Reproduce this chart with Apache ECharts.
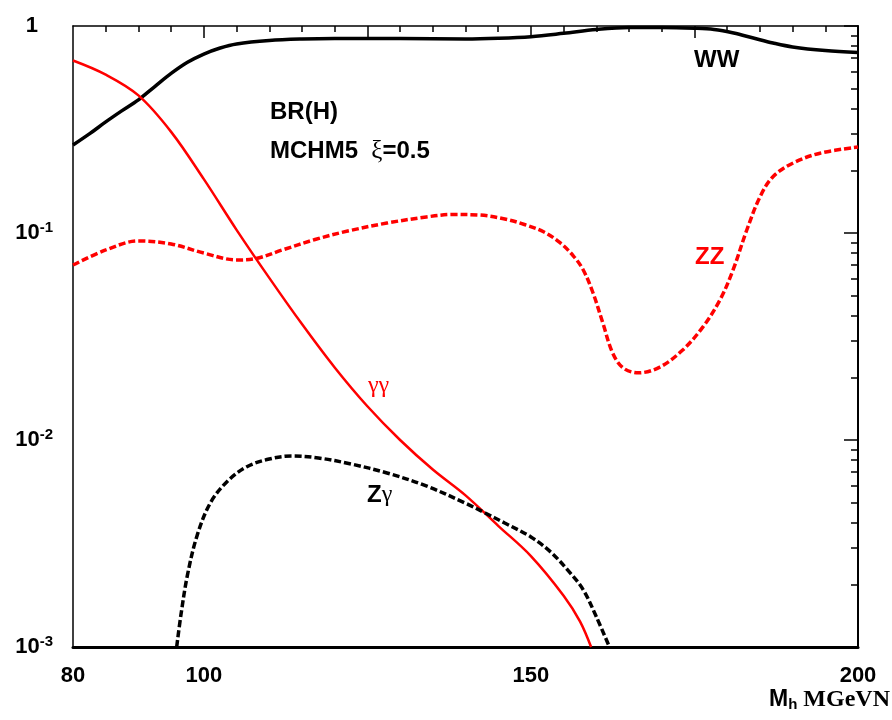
<!DOCTYPE html>
<html>
<head>
<meta charset="utf-8">
<script src="https://cdn.jsdelivr.net/npm/echarts@6/dist/echarts.min.js"></script>
<style>
  html, body { margin: 0; padding: 0; background: #fff; }
  #chart { width: 892px; height: 720px; }
</style>
</head>
<body>
<div id="chart"></div>
<script>
// Higgs branching ratios vs. mass, MCHM5 with xi = 0.5

const massWW = [80, 82.5, 85, 87.5, 90, 92.5, 95, 97.5, 100, 102.5, 105, 110, 115, 120, 130, 140, 145, 150, 155, 160, 165, 170, 175, 178, 181, 184, 187, 190, 195, 200];
const brWW   = [0.266, 0.301, 0.344, 0.39, 0.44, 0.51, 0.59, 0.668, 0.732, 0.783, 0.819, 0.851, 0.865, 0.870, 0.870, 0.865, 0.872, 0.888, 0.922, 0.962, 0.983, 0.983, 0.975, 0.962, 0.925, 0.875, 0.828, 0.792, 0.761, 0.745];

const massGG = [80, 85, 90, 95, 100, 105, 110, 115, 120, 125, 130, 135, 140, 145, 150, 155, 157.5, 159.2];
const brGG   = [0.681, 0.582, 0.462, 0.308, 0.182, 0.1036, 0.0607, 0.0363, 0.0224, 0.01455, 0.0100, 0.0072, 0.0054, 0.00385, 0.00275, 0.00177, 0.00133, 0.001];

const massZG = [95.85, 96.5, 97.5, 99, 101, 103.5, 106.5, 110, 113.5, 117.5, 122.5, 128, 134, 140, 143, 146, 150, 153, 156, 158, 160, 162];
const brZG   = [0.001, 0.00143, 0.00223, 0.00348, 0.00497, 0.00627, 0.00741, 0.00809, 0.00837, 0.00819, 0.00766, 0.00693, 0.0060, 0.00495, 0.00444, 0.00397, 0.0034, 0.00288, 0.00228, 0.00189, 0.0014, 0.001];

const massZZ = [80, 85, 90, 95, 100, 105, 108, 112, 117, 122, 128, 134, 138, 142, 146, 149, 152, 154.5, 156.5, 158, 159.5, 161, 162.5, 164.1, 166.4, 169.7, 173.2, 176.3, 178.9, 180.9, 183, 185, 187, 190.1, 194.2, 200];
const brZZ   = [0.0700, 0.0828, 0.0915, 0.0885, 0.0800, 0.0741, 0.0753, 0.0828, 0.0930, 0.1022, 0.1117, 0.1195, 0.1229, 0.1222, 0.1169, 0.1099, 0.1011, 0.0895, 0.0774, 0.0663, 0.0513, 0.0367, 0.0263, 0.0223, 0.0211, 0.0225, 0.0272, 0.0352, 0.0475, 0.0663, 0.1034, 0.149, 0.187, 0.218, 0.243, 0.260];

// axis ticks and labels
const xLabelValues = [80, 100, 150, 200];
const xMajorTicks = [100, 125, 150, 175];
const xMinorTicks = [85, 90, 95, 105, 110, 115, 120, 130, 135, 140, 145, 155, 160, 165, 170, 180, 185, 190, 195];
const yDecades = [0.001, 0.01, 0.1, 1];
const yMinorTicks = [];
[0.001, 0.01, 0.1].forEach(function (d) {
  for (let k = 2; k <= 9; k++) yMinorTicks.push(+(d * k).toPrecision(3));
});

const pair = (xs, ys) => xs.map((x, i) => [x, ys[i]]);

const BOLD = '"Liberation Sans", Arial, sans-serif';
const SERIF = '"Liberation Serif", "Times New Roman", serif';

const chart = echarts.init(document.getElementById('chart'), null, { renderer: 'canvas' });

const xBase = { type: 'value', min: 80, max: 200, splitLine: { show: false } };
const yBase = { type: 'log', logBase: 10, min: 0.001, max: 1, splitLine: { show: false } };

chart.setOption({
  animation: false,
  backgroundColor: '#fff',
  grid: { left: 73, top: 26, right: 34, bottom: 73, containLabel: false, outerBoundsMode: 'none' },
  xAxis: [
    Object.assign({}, xBase, {
      position: 'bottom',
      axisLine: { show: true, lineStyle: { color: '#000', width: 3 } },
      axisTick: { show: false },
      axisLabel: {
        customValues: xLabelValues,
        margin: 18,
        color: '#000', fontFamily: BOLD, fontWeight: 'bold', fontSize: 22
      }
    }),
    Object.assign({}, xBase, {
      position: 'top',
      axisLine: { show: true, onZero: false, lineStyle: { color: '#000', width: 1.5 } },
      axisTick: { show: true, inside: true, length: 6, customValues: xMinorTicks, lineStyle: { color: '#000', width: 1.5 } },
      axisLabel: { show: false }
    }),
    Object.assign({}, xBase, {
      position: 'top',
      axisLine: { show: false },
      axisTick: { show: true, inside: true, length: 12, customValues: xMajorTicks, lineStyle: { color: '#000', width: 1.5 } },
      axisLabel: { show: false }
    })
  ],
  yAxis: [
    Object.assign({}, yBase, {
      position: 'left',
      axisLine: { show: true, onZero: false, lineStyle: { color: '#000', width: 1.5 } },
      axisTick: { show: false },
      axisLabel: {
        customValues: yDecades,
        margin: 20,
        color: '#000',
        formatter: function (v) {
          const e = Math.round(Math.log10(v));
          return e === 0 ? '{b|1}{pad|}' : '{b|10}{e|' + e + '}';
        },
        rich: {
          b: { fontFamily: BOLD, fontWeight: 'bold', fontSize: 22, color: '#000', lineHeight: 26 },
          e: { fontFamily: BOLD, fontWeight: 'bold', fontSize: 15, color: '#000', verticalAlign: 'top', lineHeight: 16 },
          pad: { width: 15, fontSize: 15 }
        }
      }
    }),
    Object.assign({}, yBase, {
      position: 'right',
      axisLine: { show: true, onZero: false, lineStyle: { color: '#000', width: 2 } },
      axisTick: { show: true, inside: true, length: 7, customValues: yMinorTicks, lineStyle: { color: '#000', width: 1.5 } },
      axisLabel: { show: false }
    }),
    Object.assign({}, yBase, {
      position: 'right',
      axisLine: { show: false },
      axisTick: { show: true, inside: true, length: 14, customValues: yDecades, lineStyle: { color: '#000', width: 1.5 } },
      axisLabel: { show: false }
    })
  ],
  series: [
    {
      name: 'WW', type: 'line', smooth: 0.35, symbol: 'none', clip: true,
      data: pair(massWW, brWW),
      lineStyle: { color: '#000', width: 3.5 }
    },
    {
      name: 'ZZ', type: 'line', smooth: 0.35, symbol: 'none', clip: true,
      data: pair(massZZ, brZZ),
      lineStyle: { color: '#ff0000', width: 3.5, type: [7, 3] }
    },
    {
      name: 'gammagamma', type: 'line', smooth: 0.35, symbol: 'none', clip: true,
      data: pair(massGG, brGG),
      lineStyle: { color: '#ff0000', width: 2.5 }
    },
    {
      name: 'Zgamma', type: 'line', smooth: 0.35, symbol: 'none', clip: true,
      data: pair(massZG, brZG),
      lineStyle: { color: '#000', width: 3.5, type: [7, 3] }
    }
  ],
  graphic: [
    { type: 'text', left: 270, top: 100, style: { text: 'BR(H)', fill: '#000', font: 'bold 24px ' + BOLD } },
    { type: 'text', left: 270, top: 139, style: {
        text: '{b|MCHM5  }{g|ξ}{b|=0.5}',
        rich: {
          b: { fill: '#000', font: 'bold 24px ' + BOLD },
          g: { fill: '#000', font: '25px ' + SERIF }
        } } },
    { type: 'text', left: 694, top: 48, style: { text: 'WW', fill: '#000', font: 'bold 24px ' + BOLD } },
    { type: 'text', left: 695, top: 245, style: { text: 'ZZ', fill: '#ff0000', font: 'bold 24px ' + BOLD } },
    { type: 'text', left: 368, top: 374, style: { text: 'γγ', fill: '#ff0000', font: '24px ' + SERIF } },
    { type: 'text', left: 367, top: 483, style: {
        text: '{b|Z}{g|γ}',
        rich: {
          b: { fill: '#000', font: 'bold 24px ' + BOLD },
          g: { fill: '#000', font: '24px ' + SERIF }
        } } },
    { type: 'text', right: 2, top: 688, style: {
        text: '{b|M}{s|h}{u| MGeVN}',
        rich: {
          b: { fill: '#000', font: 'bold 23px ' + BOLD },
          s: { fill: '#000', font: 'bold 15px ' + BOLD, verticalAlign: 'bottom', padding: [10, 0, 0, 0] },
          u: { fill: '#000', font: 'bold 24px ' + SERIF }
        } } }
  ]
});
</script>
</body>
</html>
